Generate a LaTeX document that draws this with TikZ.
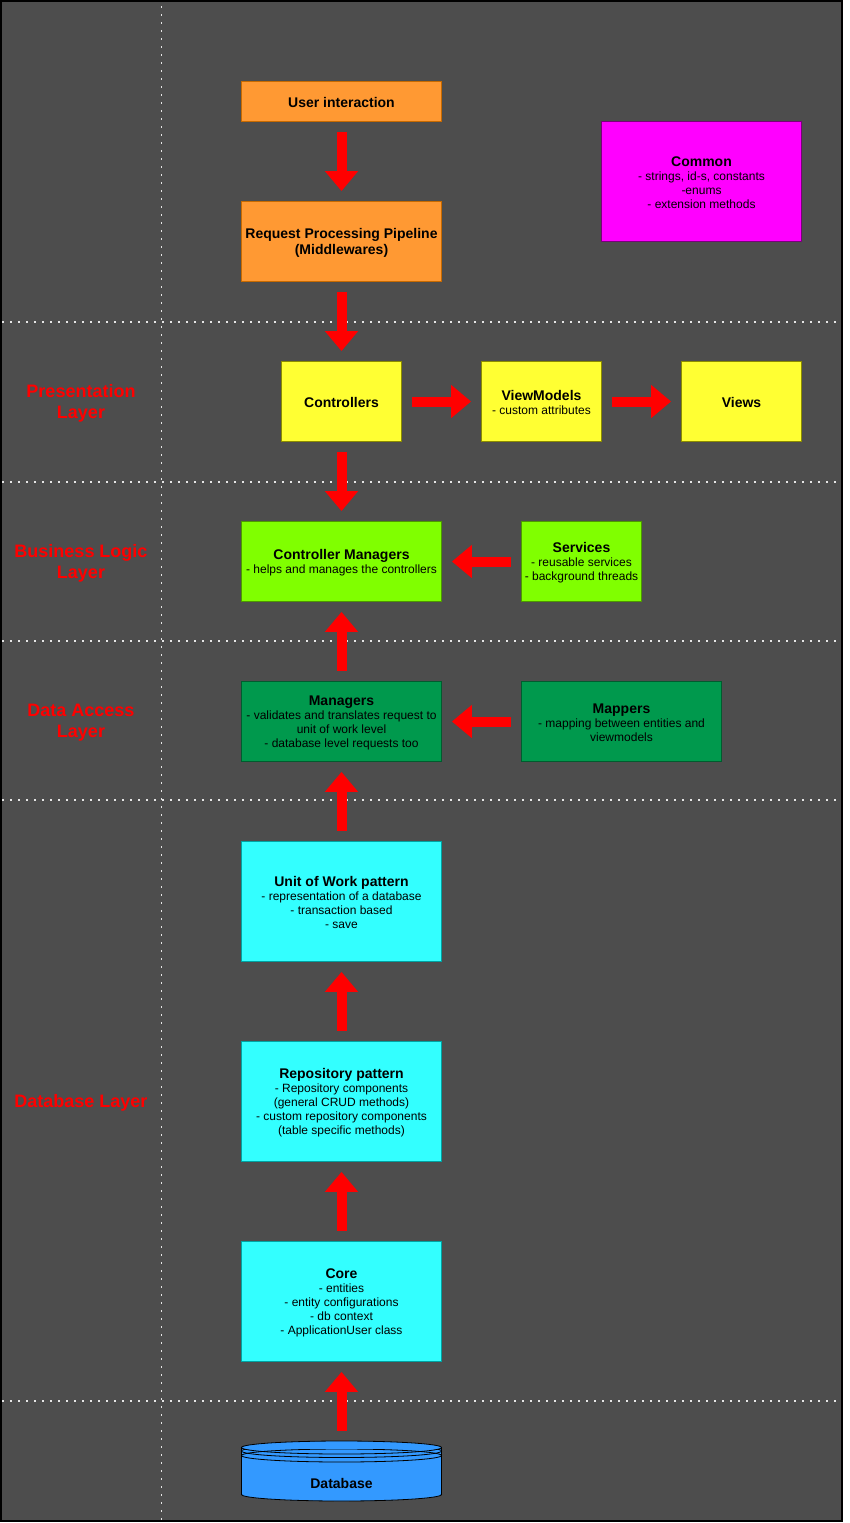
\documentclass[tikz,border=0pt]{standalone}
\usepackage{fontspec}
\setmainfont{Liberation Sans}
\usetikzlibrary{arrows.meta}
\definecolor{bgc}{HTML}{4D4D4D}
\definecolor{dotc}{HTML}{E6E6E6}
\definecolor{orfill}{HTML}{FF9933}
\definecolor{ordraw}{HTML}{C76A00}
\definecolor{yefill}{HTML}{FFFF33}
\definecolor{yedraw}{HTML}{8C8C00}
\definecolor{limefill}{HTML}{80FF00}
\definecolor{limedraw}{HTML}{4D9900}
\definecolor{dgfill}{HTML}{00994D}
\definecolor{dgdraw}{HTML}{005C2E}
\definecolor{cyfill}{HTML}{33FFFF}
\definecolor{cydraw}{HTML}{00A3A3}
\definecolor{mgfill}{HTML}{FF00FF}
\definecolor{mgdraw}{HTML}{7A007A}
\definecolor{dbfill}{HTML}{3399FF}
\definecolor{arrred}{HTML}{FF0000}
\definecolor{laytext}{HTML}{FF0000}
\newcommand\boxtitle[1]{{\fontsize{14}{14}\bfseries\rule{0pt}{13pt}#1}}
\begin{document}
\begin{tikzpicture}[x=1pt,y=-1pt,
  box/.style={draw, line width=0.8pt, align=center, inner sep=0pt, text=black,
    font=\fontsize{12}{14}\selectfont},
  orbox/.style={box, fill=orfill, draw=ordraw},
  yebox/.style={box, fill=yefill, draw=yedraw},
  limebox/.style={box, fill=limefill, draw=limedraw},
  dgbox/.style={box, fill=dgfill, draw=dgdraw},
  cybox/.style={box, fill=cyfill, draw=cydraw},
  mgbox/.style={box, fill=mgfill, draw=mgdraw},
  wide/.style={minimum width=200pt},
  narrow/.style={minimum width=120pt},
  h40/.style={minimum height=40pt},
  h80/.style={minimum height=80pt},
  h120/.style={minimum height=120pt},
  blockarrow/.style={draw=arrred, line width=10pt, shorten <=10pt, shorten >=10pt,
    -{Triangle[width=32pt,length=20pt,fill=arrred]}},
  dotline/.style={draw=dotc, line width=1.6pt, dash pattern=on 1.6pt off 6.4pt},
  layer/.style={text=laytext, align=center, font=\fontsize{18}{21}\bfseries}
]
\useasboundingbox (0,0) rectangle (850,1523);
\fill[white] (0,0) rectangle (850,1523);
\fill[bgc] (1,1) rectangle (842,1521);

% dotted separators
\draw[dotline] (161.5,6) -- (161.5,1521);
\foreach \yy in {322,482,641,800,1401}{
  \draw[dotline] (2,\yy) -- (842,\yy);
}

% layer labels
\node[layer] (lpres) at (81,403) {Presentation\\Layer};
\node[layer] (lbus) at (81,563) {Business Logic\\Layer};
\node[layer] (ldal) at (81,723) {Data Access\\Layer};
\node[layer] (ldb) at (81,1102.5) {Database Layer};

% boxes
\node[orbox, wide, h40] (user) at (341.5,101.5) {\boxtitle{User interaction}};
\node[orbox, wide, h80, font=\fontsize{14}{16}\bfseries] (req) at (341.5,241.5) {\rule{0pt}{13pt}Request Processing Pipeline\\(Middlewares)};
\node[mgbox, wide, h120] (common) at (701.5,181.5) {\boxtitle{Common}\\- strings, id-s, constants\\-enums\\- extension methods};
\node[yebox, narrow, h80] (ctrl) at (341.5,401.5) {\boxtitle{Controllers}};
\node[yebox, narrow, h80] (vm) at (541.5,401.5) {\boxtitle{ViewModels}\\- custom attributes};
\node[yebox, narrow, h80] (views) at (741.5,401.5) {\boxtitle{Views}};
\node[limebox, wide, h80] (cm) at (341.5,561.5) {\boxtitle{Controller Managers}\\- helps and manages the controllers};
\node[limebox, narrow, h80] (serv) at (581.5,561.5) {\boxtitle{Services}\\- reusable services\\- background threads};
\node[dgbox, wide, h80] (mgr) at (341.5,721.5) {\boxtitle{Managers}\\- validates and translates request to\\unit of work level\\- database level requests too};
\node[dgbox, wide, h80] (map) at (621.5,721.5) {\boxtitle{Mappers}\\- mapping between entities and\\viewmodels};
\node[cybox, wide, h120] (uow) at (341.5,901.5) {\boxtitle{Unit of Work pattern}\\- representation of a database\\- transaction based\\- save};
\node[cybox, wide, h120] (repo) at (341.5,1101.5) {\boxtitle{Repository pattern}\\- Repository components\\(general CRUD methods)\\- custom repository components\\(table specific methods)};
\node[cybox, wide, h120] (core) at (341.5,1301.5) {\boxtitle{Core}\\- entities\\- entity configurations\\- db context\\- ApplicationUser class};

% database cylinder
\node[minimum width=200pt, minimum height=60pt, inner sep=0pt] (db) at (341.5,1471) {};
\fill[dbfill] (241.5,1447.5) rectangle (441.5,1494.5);
\fill[dbfill] (341.5,1447.5) ellipse [x radius=100pt, y radius=6.5pt];
\fill[dbfill] (341.5,1494.5) ellipse [x radius=100pt, y radius=6.5pt];
\draw[line width=0.8pt] (241.5,1447.5) -- (241.5,1494.5) (441.5,1447.5) -- (441.5,1494.5);
\draw[line width=0.8pt] (341.5,1447.5) ellipse [x radius=100pt, y radius=6.5pt];
\begin{scope}
  \clip (240,1449) rectangle (443,1503);
  \draw[line width=0.8pt] (341.5,1451) ellipse [x radius=100pt, y radius=6.5pt];
  \draw[line width=0.8pt] (341.5,1455.5) ellipse [x radius=100pt, y radius=6.5pt];
\end{scope}
\begin{scope}
  \clip (240,1494.5) rectangle (443,1503);
  \draw[line width=0.8pt] (341.5,1494.5) ellipse [x radius=100pt, y radius=6.5pt];
\end{scope}
\node[font=\fontsize{14}{14}\bfseries, text=black] (dblabel) at (341.5,1483) {Database};

% frame
\draw[black, line width=1.5pt] (1,1) rectangle (842,1521);

% arrows
\draw[blockarrow] (user) -- (req);
\draw[blockarrow] (req) -- (ctrl);
\draw[blockarrow] (ctrl) -- (vm);
\draw[blockarrow] (vm) -- (views);
\draw[blockarrow] (ctrl) -- (cm);
\draw[blockarrow] (serv) -- (cm);
\draw[blockarrow] (mgr) -- (cm);
\draw[blockarrow] (map) -- (mgr);
\draw[blockarrow] (uow) -- (mgr);
\draw[blockarrow] (repo) -- (uow);
\draw[blockarrow] (core) -- (repo);
\draw[blockarrow] (db) -- (core);
\end{tikzpicture}
\end{document}
